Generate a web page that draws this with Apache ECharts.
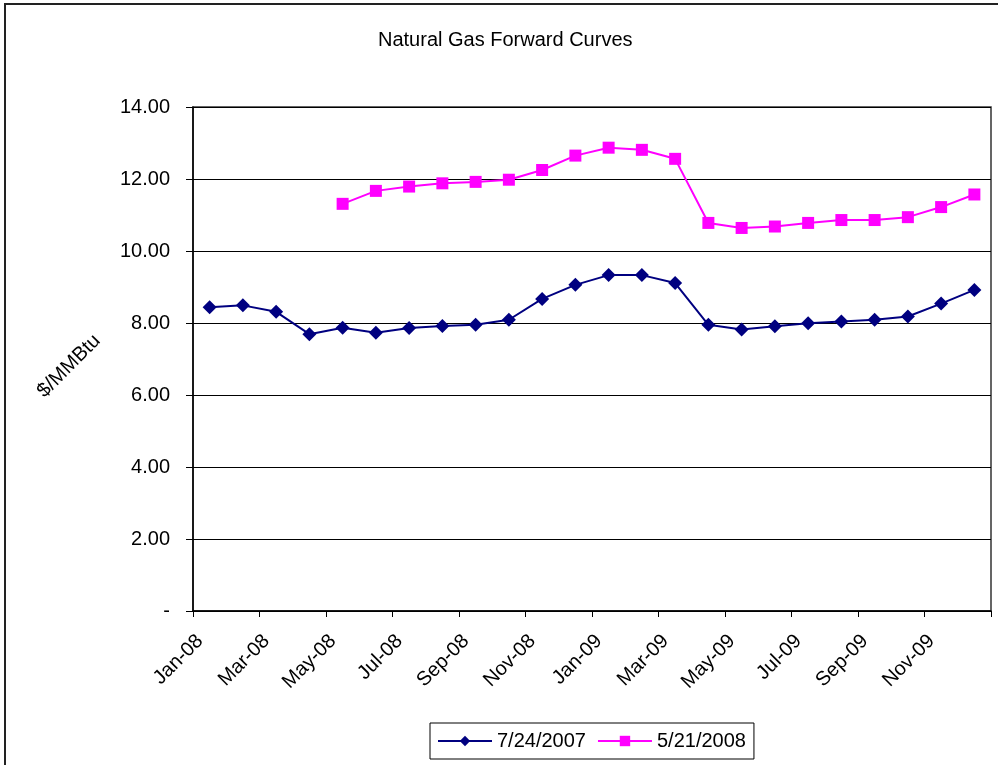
<!DOCTYPE html>
<html>
<head>
<meta charset="utf-8">
<script src="https://cdn.jsdelivr.net/npm/echarts@6/dist/echarts.min.js"></script>
<style>
  html, body { margin: 0; padding: 0; background: #fff; }
  #chart { width: 998px; height: 765px; }
</style>
</head>
<body>
<div id="chart"></div>
<script>
// Contract months on the horizontal axis
const months = [
  'Jan-08', 'Feb-08', 'Mar-08', 'Apr-08', 'May-08', 'Jun-08',
  'Jul-08', 'Aug-08', 'Sep-08', 'Oct-08', 'Nov-08', 'Dec-08',
  'Jan-09', 'Feb-09', 'Mar-09', 'Apr-09', 'May-09', 'Jun-09',
  'Jul-09', 'Aug-09', 'Sep-09', 'Oct-09', 'Nov-09', 'Dec-09'
];

// Forward curve as of 7/24/2007 ($/MMBtu)
const curve20070724 = [
  8.44, 8.49, 8.31, 7.69, 7.87, 7.73, 7.86, 7.92, 7.95, 8.09, 8.67, 9.06,
  9.33, 9.33, 9.11, 7.95, 7.82, 7.91, 7.99, 8.04, 8.09, 8.18, 8.54, 8.92
];

// Forward curve as of 5/21/2008 ($/MMBtu); no quotes before May-08
const curve20080521 = [
  null, null, null, null, 11.31, 11.67, 11.79, 11.88, 11.92, 11.98, 12.25, 12.65,
  12.87, 12.81, 12.56, 10.78, 10.64, 10.68, 10.78, 10.86, 10.86, 10.94, 11.22, 11.57
];

const seriesNames = ['7/24/2007', '5/21/2008'];

// Each month is plotted at the middle of its slot on a 0..24 month scale
const toPoints = vals => vals.map((v, i) => [i + 0.5, v]);

const FONT = 'Liberation Sans, Arial, sans-serif';
const FS = 20;

const chart = echarts.init(document.getElementById('chart'), null, { renderer: 'canvas' });

chart.setOption({
  animation: false,
  backgroundColor: '#fff',
  title: {
    text: 'Natural Gas Forward Curves',
    left: 373,
    top: 25,
    textStyle: { fontFamily: FONT, fontSize: 20, fontWeight: 'normal', color: '#000' }
  },
  graphic: [
    {
      type: 'rect',
      shape: { x: 5, y: 4, width: 1100, height: 1000 },
      style: { fill: null, stroke: '#222', lineWidth: 2 },
      silent: true
    },
    {
      type: 'text',
      x: 69,
      y: 366,
      rotation: Math.PI / 4,
      style: {
        text: '$/MMBtu',
        font: FS + 'px ' + FONT,
        fill: '#000',
        align: 'center',
        verticalAlign: 'middle'
      },
      silent: true
    }
  ],
  grid: {
    left: 193,
    top: 107,
    right: 7,
    bottom: 154,
    show: true,
    borderColor: '#333',
    borderWidth: 1.5,
    containLabel: false
  },
  legend: {
    left: 430,
    top: 723,
    orient: 'horizontal',
    itemWidth: 54,
    itemHeight: 13,
    itemGap: 11,
    padding: [8, 8, 8, 7],
    borderColor: '#000',
    borderWidth: 1,
    textStyle: { fontFamily: FONT, fontSize: FS, color: '#000' },
    data: seriesNames
  },
  xAxis: {
    type: 'value',
    min: 0,
    max: 24,
    interval: 2,
    axisLine: { show: true, lineStyle: { color: '#000', width: 1.5 } },
    axisTick: { show: true, length: 6, lineStyle: { color: '#000' } },
    splitLine: { show: false },
    axisLabel: {
      rotate: 45,
      margin: 20,
      verticalAlign: 'top',
      fontFamily: FONT,
      fontSize: FS,
      color: '#000',
      formatter: v => (v < months.length ? months[v] : '')
    }
  },
  yAxis: {
    type: 'value',
    min: 0,
    max: 14,
    interval: 2,
    axisLine: { show: true, lineStyle: { color: '#000', width: 1.5 } },
    axisTick: { show: true, length: 7, lineStyle: { color: '#000' } },
    splitLine: { show: true, lineStyle: { color: '#000', width: 1 } },
    axisLabel: {
      margin: 23,
      fontFamily: FONT,
      fontSize: FS,
      color: '#000',
      formatter: v => (v === 0 ? '-' : v.toFixed(2))
    }
  },
  series: [
    {
      name: seriesNames[0],
      type: 'line',
      data: toPoints(curve20070724),
      symbol: 'diamond',
      symbolSize: 14,
      itemStyle: { color: '#000080' },
      lineStyle: { color: '#000080', width: 2 }
    },
    {
      name: seriesNames[1],
      type: 'line',
      data: toPoints(curve20080521),
      symbol: 'rect',
      symbolSize: 12,
      connectNulls: false,
      itemStyle: { color: '#FF00FF' },
      lineStyle: { color: '#FF00FF', width: 2 }
    }
  ]
});
</script>
</body>
</html>
